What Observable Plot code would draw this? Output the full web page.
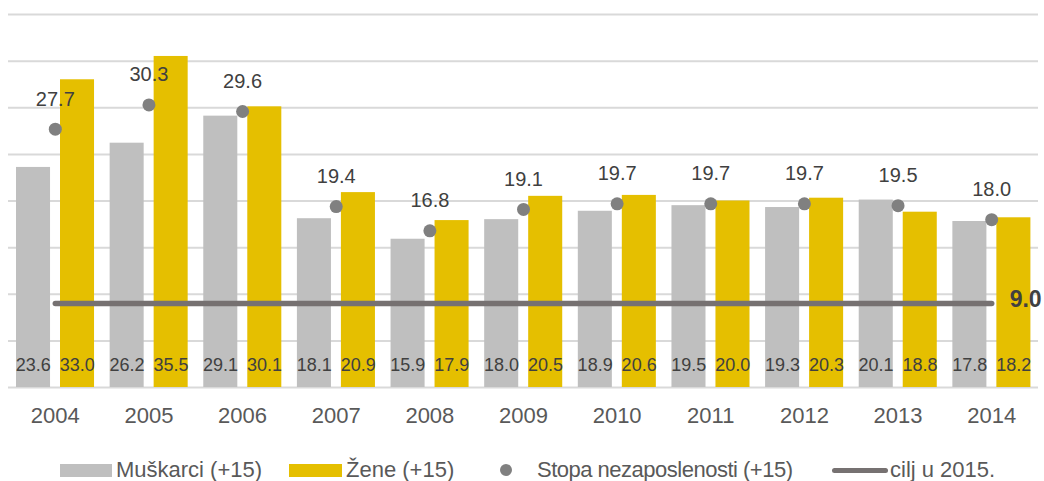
<!DOCTYPE html>
<html>
<head>
<meta charset="utf-8">
<script src="https://cdn.jsdelivr.net/npm/d3@7"></script>
<script src="https://cdn.jsdelivr.net/npm/@observablehq/plot@0.6"></script>
<style>
  body { margin: 0; background: #fff; font-family: "Liberation Sans", Arial, sans-serif; }
  #legend { position: relative; height: 41px; width: 1044px; color: #595959; font-size: 22px; overflow: visible; }
  #legend .sw { position: absolute; display: block; }
  #legend .tx { position: absolute; top: 9px; height: 41px; line-height: 41px; white-space: nowrap; }
</style>
</head>
<body>
<div id="chart"></div>
<div id="legend"></div>
<script>
const years = ["2004","2005","2006","2007","2008","2009","2010","2011","2012","2013","2014"];
const men   = [23.6, 26.2, 29.1, 18.1, 15.9, 18.0, 18.9, 19.5, 19.3, 20.1, 17.8];
const women = [33.0, 35.5, 30.1, 20.9, 17.9, 20.5, 20.6, 20.0, 20.3, 18.8, 18.2];
const rate  = [27.7, 30.3, 29.6, 19.4, 16.8, 19.1, 19.7, 19.7, 19.7, 19.5, 18.0];
const target = 9.0;
const seriesNames = ["Muškarci (+15)", "Žene (+15)", "Stopa nezaposlenosti (+15)", "cilj u 2015."];
const gridTicks = [0, 5, 10, 15, 20, 25, 30, 35, 40];

const colors = { men: "#BFBFBF", women: "#E5BF00", dot: "#808080", line: "#767171", label: "#404040", axis: "#595959", grid: "#D9D9D9" };

const rows = years.map((y, i) => ({ year: y, men: men[i], women: women[i], rate: rate[i], target }));
const fmt = d3.format(".1f");

const chart = Plot.plot({
  width: 1044,
  height: 440,
  marginLeft: 8,
  marginRight: 6,
  marginTop: 14,
  marginBottom: 53,
  style: { fontFamily: "Liberation Sans, Arial, sans-serif", background: "#fff", overflow: "visible" },
  x: { type: "band", domain: years, padding: 0, round: false, axis: null },
  y: { domain: [0, 40], axis: null },
  marks: [
    Plot.ruleY(gridTicks, { stroke: colors.grid, strokeWidth: 2 }),
    Plot.barY(rows, { x: "year", y: "men", fill: colors.men, insetLeft: 8, insetRight: 51.6 }),
    Plot.barY(rows, { x: "year", y: "women", fill: colors.women, insetLeft: 52, insetRight: 7.6 }),
    Plot.text(rows, { x: "year", y: 0, text: d => fmt(d.men), dx: -22, dy: -22, fontSize: 18, fill: colors.label }),
    Plot.text(rows, { x: "year", y: 0, text: d => fmt(d.women), dx: 22, dy: -22, fontSize: 18, fill: colors.label }),
    Plot.lineY(rows, { x: "year", y: "target", stroke: colors.line, strokeWidth: 5.5, strokeLinecap: "round" }),
    Plot.text(rows.slice(-1), { x: "year", y: "target", text: d => fmt(d.target), textAnchor: "start", dx: 18, dy: -4, fontSize: 23, fontWeight: "bold", fill: colors.label }),
    Plot.dot(rows, { x: "year", y: "rate", r: 6.5, fill: colors.dot }),
    Plot.text(rows, { x: "year", y: "rate", text: d => fmt(d.rate), dy: -30, fontSize: 20, fill: colors.label }),
    Plot.axisX({ tickSize: 0, tickPadding: 20, fontSize: 22, color: colors.axis, label: null })
  ]
});
document.getElementById("chart").appendChild(chart);

// legend
const legend = document.getElementById("legend");
const items = [
  { sw: `left:60px;top:24px;width:52px;height:13px;background:${colors.men}`, tx: 116, ls: 0 },
  { sw: `left:289px;top:24px;width:53px;height:13px;background:${colors.women}`, tx: 346, ls: 0 },
  { sw: `left:500px;top:24px;width:12px;height:12px;border-radius:50%;background:${colors.dot}`, tx: 537, ls: -0.5 },
  { sw: `left:832px;top:28px;width:56px;height:5px;border-radius:3px;background:${colors.line}`, tx: 890, ls: 0 }
];
items.forEach((it, i) => {
  const s = document.createElement("span");
  s.className = "sw";
  s.setAttribute("style", it.sw);
  legend.appendChild(s);
  const t = document.createElement("span");
  t.className = "tx";
  t.style.left = it.tx + "px";
  t.style.letterSpacing = it.ls + "px";
  t.textContent = seriesNames[i];
  legend.appendChild(t);
});
</script>
</body>
</html>
